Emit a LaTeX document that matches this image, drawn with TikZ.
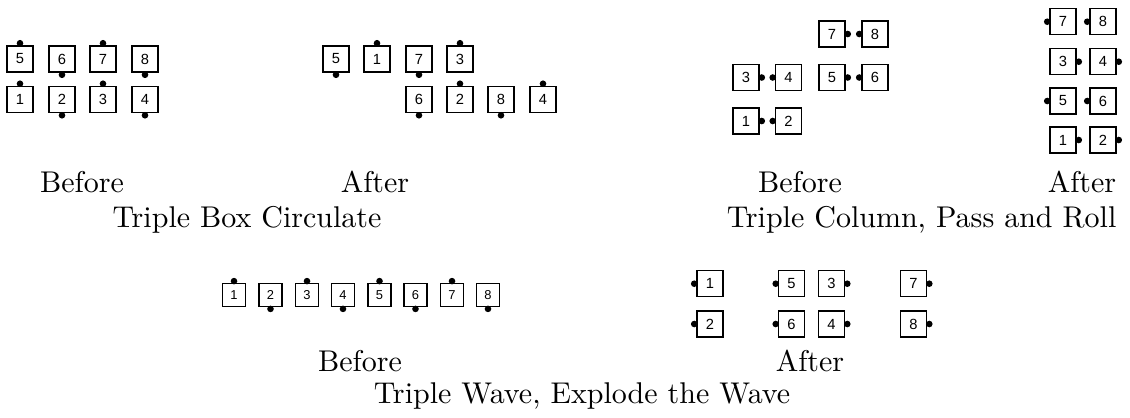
\documentclass[tikz,border=0pt]{standalone}
\usepackage{fontspec}
\usetikzlibrary{calc}
\newfontfamily\dancerfont{Liberation Sans}
\tikzset{
  dancer/.style={draw,line width=0.45pt,minimum size=8.7pt,inner sep=0pt,
                 font=\dancerfont\fontsize{4.9}{5}\selectfont},
  dancersm/.style={dancer,minimum size=7.6pt,
                   font=\dancerfont\fontsize{4.3}{5}\selectfont},
  caption/.style={anchor=base,font=\normalsize},
}
\newcommand{\nose}[2]{\fill ($(#1.center)!1.15!(#1.#2)$) circle[radius=3.3];}

\begin{document}
\begin{tikzpicture}[x=0.3333pt,y=-0.3333pt]
  \useasboundingbox (0,0) rectangle (1130,417);

  % Triple Box Circulate
  \foreach \n/\x/\s in {5/20/north,6/62/south,7/103/north,8/145/south}
    {\node[dancer] (cb\n) at (\x,59) {\n}; \nose{cb\n}{\s}}
  \foreach \n/\x/\s in {1/20/north,2/62/south,3/103/north,4/145/south}
    {\node[dancer] (cb\n) at (\x,99.5) {\n}; \nose{cb\n}{\s}}
  \foreach \n/\x/\s in {5/336/south,1/377/north,7/419/south,3/460/north}
    {\node[dancer] (ca\n) at (\x,59) {\n}; \nose{ca\n}{\s}}
  \foreach \n/\x/\s in {6/419/south,2/460/north,8/501/south,4/543/north}
    {\node[dancer] (ca\n) at (\x,99.5) {\n}; \nose{ca\n}{\s}}
  \node[caption] (cbefore) at (82,192) {Before};
  \node[caption] (cafter)  at (375,192) {After};
  \node[caption] (ctitle)  at (247,227) {Triple Box Circulate};

  % Triple Column, Pass and Roll
  \foreach \n/\x/\y/\s in {7/832/34/east,8/875/34/west,
                           3/746/77.5/east,4/788.5/77.5/west,
                           5/832/77.5/east,6/875/77.5/west,
                           1/746/121/east,2/788.5/121/west}
    {\node[dancer] (pb\n) at (\x,\y) {\n}; \nose{pb\n}{\s}}
  \foreach \n/\x/\y/\s in {7/1063/21.7/west,8/1103/21.7/west,
                           3/1063/61.7/east,4/1103/61.7/east,
                           5/1063/101/west,6/1103/101/west,
                           1/1063/140/east,2/1103/140/east}
    {\node[dancer] (pa\n) at (\x,\y) {\n}; \nose{pa\n}{\s}}
  \node[caption] (pbefore) at (800,192) {Before};
  \node[caption] (pafter)  at (1082,192) {After};
  \node[caption,anchor=base east] (ptitle) at (1127,227) {Triple Column, Pass and Roll};

  % Triple Wave, Explode the Wave
  \foreach \n/\x/\s in {1/234/north,2/270.5/south,3/307/north,4/343/south,
                        5/379.5/north,6/415.5/south,7/452/north,8/488/south}
    {\node[dancersm] (wb\n) at (\x,295) {\n}; \nose{wb\n}{\s}}
  \foreach \n/\x/\y/\s in {1/710/283.7/west,2/710/324/west,
                           5/791.5/283.7/west,6/791.5/324/west,
                           3/831.5/283.7/east,4/831.5/324/east,
                           7/913.5/283.7/east,8/913.5/324/east}
    {\node[dancer] (wa\n) at (\x,\y) {\n}; \nose{wa\n}{\s}}
  \node[caption] (wbefore) at (360,371) {Before};
  \node[caption] (wafter)  at (810,371) {After};
  \node[caption] (wtitle)  at (582,403) {Triple Wave, Explode the Wave};
\end{tikzpicture}
\end{document}
